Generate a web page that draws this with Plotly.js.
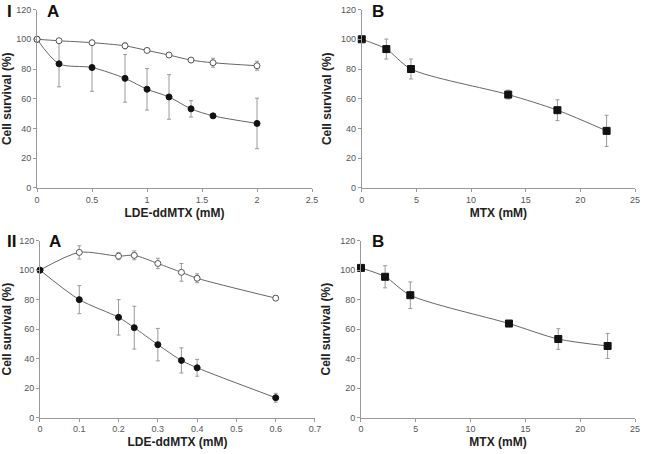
<!DOCTYPE html>
<html>
<head>
<meta charset="utf-8">
<script src="https://cdn.plot.ly/plotly-3.0.1.min.js"></script>
<style>body{margin:0;background:#fff}#chart{width:646px;height:454px}</style>
</head>
<body>
<div id="chart"></div>
<script>
// Panel I A: LDE-ddMTX, two cell lines
const ia_x = [0, 0.2, 0.5, 0.8, 1, 1.2, 1.4, 1.6, 2];
const ia_filled = [100, 83.5, 81, 73.7, 66.4, 61.2, 53.2, 48.5, 43.4];
const ia_filled_err = [0, 15.5, 16, 16, 14, 15, 5.5, 1.5, 17];
const ia_open = [100, 99, 97.7, 95.6, 92.5, 89.4, 86, 84.2, 82.2];
const ia_open_err = [0, 0.5, 1, 2, 1, 1.5, 0.5, 3, 3];

// Panel I B: MTX
const ib_x = [0, 2.25, 4.5, 13.4, 17.9, 22.4];
const ib_y = [100, 93.4, 80, 62.8, 52.3, 38.4];
const ib_err = [0, 6.7, 6.7, 3, 7, 10.5];

// Panel II A: LDE-ddMTX
const iia_x = [0, 0.1, 0.2, 0.24, 0.3, 0.36, 0.4, 0.6];
const iia_filled = [100, 80, 68, 61, 49.5, 38.8, 33.8, 13.5];
const iia_filled_err = [0, 9.5, 12, 14.5, 11, 8.5, 5.7, 3];
const iia_open = [100, 112, 109.5, 110, 104.5, 98.5, 94.5, 81];
const iia_open_err = [0, 4.5, 2.5, 3, 3.5, 6, 3, 1.5];

// Panel II B: MTX
const iib_x = [0, 2.2, 4.5, 13.5, 18, 22.5];
const iib_y = [101.5, 95.5, 83, 63.8, 53.3, 48.6];
const iib_err = [0, 7.5, 9, 1, 7, 8.5];

const lineColor = '#666';
const errColor = '#999';

function series(x, y, err, xa, ya, marker) {
  return {
    x: x, y: y, xaxis: xa, yaxis: ya,
    type: 'scatter', mode: 'lines+markers', cliponaxis: false,
    line: {color: lineColor, width: 1, shape: 'spline', smoothing: 0.8},
    marker: marker,
    error_y: {type: 'data', array: err, visible: true, color: errColor, thickness: 1, width: 2},
    showlegend: false
  };
}

const filledCircle = {symbol: 'circle', size: 6, color: '#111', line: {color: '#111', width: 1}};
const openCircle = {symbol: 'circle', size: 6, color: '#fff', line: {color: '#555', width: 1}};
const square = {symbol: 'square', size: 7, color: '#111', line: {color: '#111', width: 1}};

const data = [
  series(ia_x, ia_filled, ia_filled_err, 'x', 'y', filledCircle),
  series(ia_x, ia_open, ia_open_err, 'x', 'y', openCircle),
  series(ib_x, ib_y, ib_err, 'x2', 'y2', square),
  series(iia_x, iia_open, iia_open_err, 'x3', 'y3', openCircle),
  series(iia_x, iia_filled, iia_filled_err, 'x3', 'y3', filledCircle),
  series(iib_x, iib_y, iib_err, 'x4', 'y4', square)
];

const tickFont = {family: 'Liberation Sans, Arial, sans-serif', size: 9, color: '#555'};
const titleFont = {family: 'Liberation Sans, Arial, sans-serif', size: 12, color: '#222', weight: 'bold'};

function xaxis(domain, anchor, range, dtick, title) {
  return {
    domain: domain, anchor: anchor, range: range, dtick: dtick,
    showgrid: false, zeroline: false, showline: true, linecolor: '#999', linewidth: 1,
    ticks: 'outside', ticklen: 3, tickcolor: '#999', tickfont: tickFont,
    title: {text: title, font: titleFont, standoff: 4}
  };
}
function yaxis(domain, anchor) {
  return {
    domain: domain, anchor: anchor, range: [0, 120], dtick: 20,
    showgrid: false, zeroline: false, showline: true, linecolor: '#999', linewidth: 1,
    ticks: 'outside', ticklen: 3, tickcolor: '#999', tickfont: tickFont,
    title: {text: 'Cell survival (%)', font: titleFont, standoff: 6}
  };
}

const topY = [0.586, 0.979];
const botY = [0.080, 0.470];

const labelFont = {family: 'Liberation Sans, Arial, sans-serif', size: 17, color: '#111', weight: 'bold'};
function label(text, x, y) {
  return {text: text, x: x, y: y, xref: 'paper', yref: 'paper', xanchor: 'left', yanchor: 'middle', showarrow: false, font: labelFont};
}

const layout = {
  width: 646, height: 454,
  margin: {l: 0, r: 0, t: 0, b: 0},
  paper_bgcolor: '#fff', plot_bgcolor: '#fff',
  xaxis: xaxis([0.0573, 0.483], 'y', [0, 2.5], 0.5, 'LDE-ddMTX (mM)'),
  yaxis: yaxis(topY, 'x'),
  xaxis2: xaxis([0.560, 0.983], 'y2', [0, 25], 5, 'MTX (mM)'),
  yaxis2: yaxis(topY, 'x2'),
  xaxis3: xaxis([0.0619, 0.4876], 'y3', [0, 0.7], 0.1, 'LDE-ddMTX (mM)'),
  yaxis3: yaxis(botY, 'x3'),
  xaxis4: xaxis([0.5588, 0.983], 'y4', [0, 25], 5, 'MTX (mM)'),
  yaxis4: yaxis(botY, 'x4'),
  annotations: [
    label('I', 0.008, 0.975),
    label('A', 0.070, 0.975),
    label('B', 0.573, 0.975),
    label('II', 0.008, 0.467),
    label('A', 0.073, 0.467),
    label('B', 0.573, 0.467)
  ]
};

Plotly.newPlot('chart', data, layout, {displayModeBar: false});
</script>
</body>
</html>
